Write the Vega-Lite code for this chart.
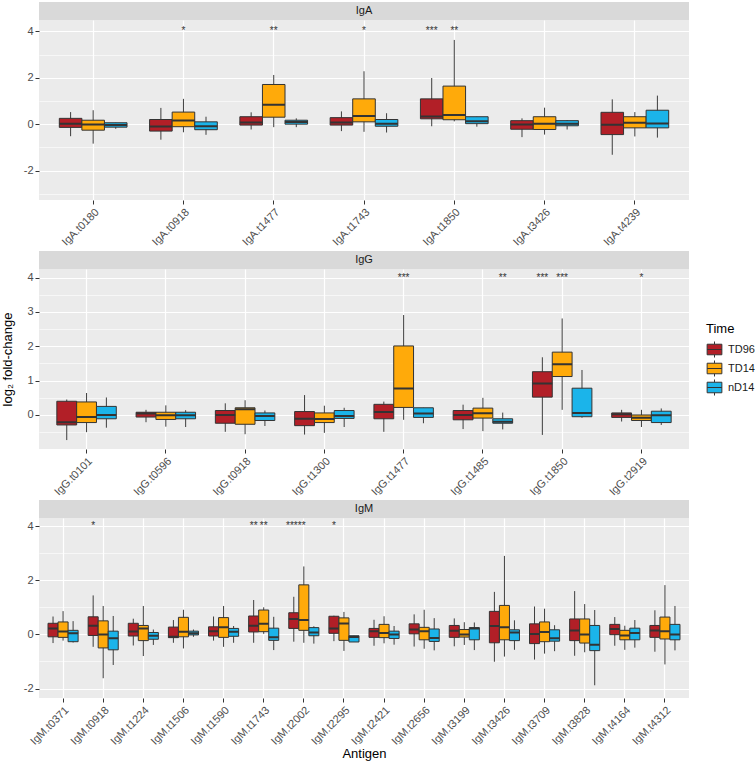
{
  "$schema": "https://vega.github.io/schema/vega-lite/v6.json",
  "padding": {"left": 1, "top": 2, "right": 0, "bottom": 0},
  "background": "white",
  "spacing": 0,
  "config": {
    "font": "Liberation Sans",
    "view": {"stroke": null},
    "axis": {"domain": false, "tickColor": "#333333", "tickSize": 4, "tickWidth": 1, "labelColor": "#4D4D4D", "labelFontSize": 11, "labelPadding": 2, "gridColor": "#FFFFFF", "titleFontWeight": "normal", "titleFontSize": 13, "titleColor": "#000000"},
    "axisY": {"labelOverlap": false, "tickCount": 30}
  },
  "resolve": {"scale": {"x": "independent", "y": "independent", "xOffset": "independent", "fill": "shared"}},
  "datasets": {
    "strips": [{"iso": "IgA"}, {"iso": "IgG"}, {"iso": "IgM"}],
    "stars": [
      {"iso": "IgA", "antigen": "IgA.t0918", "time": "TD14", "stars": "*"},
      {"iso": "IgA", "antigen": "IgA.t1477", "time": "TD14", "stars": "**"},
      {"iso": "IgA", "antigen": "IgA.t1743", "time": "TD14", "stars": "*"},
      {"iso": "IgA", "antigen": "IgA.t1850", "time": "TD96", "stars": "***"},
      {"iso": "IgA", "antigen": "IgA.t1850", "time": "TD14", "stars": "**"},
      {"iso": "IgG", "antigen": "IgG.t1477", "time": "TD14", "stars": "***"},
      {"iso": "IgG", "antigen": "IgG.t1485", "time": "nD14", "stars": "**"},
      {"iso": "IgG", "antigen": "IgG.t1850", "time": "TD96", "stars": "***"},
      {"iso": "IgG", "antigen": "IgG.t1850", "time": "TD14", "stars": "***"},
      {"iso": "IgG", "antigen": "IgG.t2919", "time": "TD14", "stars": "*"},
      {"iso": "IgM", "antigen": "IgM.t0918", "time": "TD96", "stars": "*"},
      {"iso": "IgM", "antigen": "IgM.t1743", "time": "TD96", "stars": "**"},
      {"iso": "IgM", "antigen": "IgM.t1743", "time": "TD14", "stars": "**"},
      {"iso": "IgM", "antigen": "IgM.t2002", "time": "TD96", "stars": "****"},
      {"iso": "IgM", "antigen": "IgM.t2002", "time": "TD14", "stars": "*"},
      {"iso": "IgM", "antigen": "IgM.t2295", "time": "TD96", "stars": "*"}
    ],
    "boxes": [
      {"iso":"IgA","antigen":"IgA.t0180","time":"TD96","lo":-0.52,"q1":-0.14,"med":0.02,"q3":0.25,"hi":0.52},
      {"iso":"IgA","antigen":"IgA.t0180","time":"TD14","lo":-0.84,"q1":-0.26,"med":-0.01,"q3":0.17,"hi":0.6},
      {"iso":"IgA","antigen":"IgA.t0180","time":"nD14","lo":-0.2,"q1":-0.13,"med":-0.04,"q3":0.06,"hi":0.06},
      {"iso":"IgA","antigen":"IgA.t0918","time":"TD96","lo":-0.67,"q1":-0.3,"med":-0.1,"q3":0.2,"hi":0.7},
      {"iso":"IgA","antigen":"IgA.t0918","time":"TD14","lo":-0.35,"q1":-0.11,"med":0.16,"q3":0.52,"hi":1.09},
      {"iso":"IgA","antigen":"IgA.t0918","time":"nD14","lo":-0.46,"q1":-0.24,"med":-0.09,"q3":0.1,"hi":0.32},
      {"iso":"IgA","antigen":"IgA.t1477","time":"TD96","lo":-0.23,"q1":-0.04,"med":0.07,"q3":0.32,"hi":0.51},
      {"iso":"IgA","antigen":"IgA.t1477","time":"TD14","lo":-0.13,"q1":0.3,"med":0.84,"q3":1.71,"hi":2.12},
      {"iso":"IgA","antigen":"IgA.t1477","time":"nD14","lo":-0.13,"q1":0.0,"med":0.09,"q3":0.17,"hi":0.25},
      {"iso":"IgA","antigen":"IgA.t1743","time":"TD96","lo":-0.3,"q1":-0.04,"med":0.07,"q3":0.28,"hi":0.55},
      {"iso":"IgA","antigen":"IgA.t1743","time":"TD14","lo":-0.33,"q1":0.1,"med":0.35,"q3":1.09,"hi":2.28},
      {"iso":"IgA","antigen":"IgA.t1743","time":"nD14","lo":-0.36,"q1":-0.09,"med":0.02,"q3":0.2,"hi":0.47},
      {"iso":"IgA","antigen":"IgA.t1850","time":"TD96","lo":-0.09,"q1":0.23,"med":0.33,"q3":1.09,"hi":1.99},
      {"iso":"IgA","antigen":"IgA.t1850","time":"TD14","lo":0.12,"q1":0.19,"med":0.39,"q3":1.64,"hi":3.63},
      {"iso":"IgA","antigen":"IgA.t1850","time":"nD14","lo":-0.11,"q1":0.02,"med":0.12,"q3":0.32,"hi":0.32},
      {"iso":"IgA","antigen":"IgA.t3426","time":"TD96","lo":-0.56,"q1":-0.22,"med":-0.01,"q3":0.15,"hi":0.25},
      {"iso":"IgA","antigen":"IgA.t3426","time":"TD14","lo":-0.45,"q1":-0.23,"med":0.02,"q3":0.32,"hi":0.71},
      {"iso":"IgA","antigen":"IgA.t3426","time":"nD14","lo":-0.23,"q1":-0.07,"med":0.02,"q3":0.15,"hi":0.17},
      {"iso":"IgA","antigen":"IgA.t4239","time":"TD96","lo":-1.32,"q1":-0.45,"med":-0.03,"q3":0.51,"hi":1.07},
      {"iso":"IgA","antigen":"IgA.t4239","time":"TD14","lo":-0.53,"q1":-0.16,"med":0.06,"q3":0.32,"hi":0.52},
      {"iso":"IgA","antigen":"IgA.t4239","time":"nD14","lo":-0.58,"q1":-0.16,"med":0.03,"q3":0.6,"hi":1.23},

      {"iso":"IgG","antigen":"IgG.t0101","time":"TD96","lo":-0.73,"q1":-0.29,"med":-0.21,"q3":0.4,"hi":0.45},
      {"iso":"IgG","antigen":"IgG.t0101","time":"TD14","lo":-0.5,"q1":-0.22,"med":-0.06,"q3":0.38,"hi":0.64},
      {"iso":"IgG","antigen":"IgG.t0101","time":"nD14","lo":-0.37,"q1":-0.11,"med":0.0,"q3":0.25,"hi":0.51},
      {"iso":"IgG","antigen":"IgG.t0596","time":"TD96","lo":-0.21,"q1":-0.06,"med":0.04,"q3":0.08,"hi":0.15},
      {"iso":"IgG","antigen":"IgG.t0596","time":"TD14","lo":-0.34,"q1":-0.13,"med":-0.01,"q3":0.08,"hi":0.28},
      {"iso":"IgG","antigen":"IgG.t0596","time":"nD14","lo":-0.35,"q1":-0.11,"med":-0.01,"q3":0.08,"hi":0.14},
      {"iso":"IgG","antigen":"IgG.t0918","time":"TD96","lo":-0.49,"q1":-0.24,"med":0.0,"q3":0.13,"hi":0.34},
      {"iso":"IgG","antigen":"IgG.t0918","time":"TD14","lo":-0.56,"q1":-0.27,"med":0.17,"q3":0.21,"hi":0.43},
      {"iso":"IgG","antigen":"IgG.t0918","time":"nD14","lo":-0.32,"q1":-0.16,"med":-0.03,"q3":0.06,"hi":0.13},
      {"iso":"IgG","antigen":"IgG.t1300","time":"TD96","lo":-0.57,"q1":-0.31,"med":-0.11,"q3":0.1,"hi":0.58},
      {"iso":"IgG","antigen":"IgG.t1300","time":"TD14","lo":-0.52,"q1":-0.22,"med":-0.12,"q3":0.06,"hi":0.27},
      {"iso":"IgG","antigen":"IgG.t1300","time":"nD14","lo":-0.35,"q1":-0.1,"med":-0.03,"q3":0.13,"hi":0.21},
      {"iso":"IgG","antigen":"IgG.t1477","time":"TD96","lo":-0.49,"q1":-0.11,"med":0.09,"q3":0.31,"hi":0.39},
      {"iso":"IgG","antigen":"IgG.t1477","time":"TD14","lo":-0.14,"q1":0.22,"med":0.77,"q3":2.01,"hi":2.91},
      {"iso":"IgG","antigen":"IgG.t1477","time":"nD14","lo":-0.24,"q1":-0.07,"med":0.04,"q3":0.21,"hi":0.21},
      {"iso":"IgG","antigen":"IgG.t1485","time":"TD96","lo":-0.41,"q1":-0.14,"med":0.0,"q3":0.13,"hi":0.3},
      {"iso":"IgG","antigen":"IgG.t1485","time":"TD14","lo":-0.47,"q1":-0.09,"med":0.05,"q3":0.2,"hi":0.5},
      {"iso":"IgG","antigen":"IgG.t1485","time":"nD14","lo":-0.42,"q1":-0.24,"med":-0.2,"q3":-0.11,"hi":0.07},
      {"iso":"IgG","antigen":"IgG.t1850","time":"TD96","lo":-0.58,"q1":0.52,"med":0.92,"q3":1.26,"hi":1.68},
      {"iso":"IgG","antigen":"IgG.t1850","time":"TD14","lo":0.15,"q1":1.12,"med":1.48,"q3":1.83,"hi":2.81},
      {"iso":"IgG","antigen":"IgG.t1850","time":"nD14","lo":-0.08,"q1":-0.05,"med":0.06,"q3":0.78,"hi":1.31},
      {"iso":"IgG","antigen":"IgG.t2919","time":"TD96","lo":-0.19,"q1":-0.07,"med":0.02,"q3":0.06,"hi":0.15},
      {"iso":"IgG","antigen":"IgG.t2919","time":"TD14","lo":-0.35,"q1":-0.16,"med":-0.08,"q3":0.0,"hi":0.15},
      {"iso":"IgG","antigen":"IgG.t2919","time":"nD14","lo":-0.29,"q1":-0.22,"med":-0.01,"q3":0.11,"hi":0.19},

      {"iso":"IgM","antigen":"IgM.t0371","time":"TD96","lo":-0.32,"q1":-0.09,"med":0.22,"q3":0.41,"hi":0.66},
      {"iso":"IgM","antigen":"IgM.t0371","time":"TD14","lo":-0.23,"q1":-0.11,"med":0.11,"q3":0.46,"hi":0.86},
      {"iso":"IgM","antigen":"IgM.t0371","time":"nD14","lo":-0.3,"q1":-0.27,"med":0.04,"q3":0.15,"hi":0.49},
      {"iso":"IgM","antigen":"IgM.t0918","time":"TD96","lo":-0.46,"q1":-0.04,"med":0.32,"q3":0.65,"hi":1.44},
      {"iso":"IgM","antigen":"IgM.t0918","time":"TD14","lo":-1.62,"q1":-0.5,"med":0.0,"q3":0.5,"hi":1.05},
      {"iso":"IgM","antigen":"IgM.t0918","time":"nD14","lo":-1.13,"q1":-0.57,"med":-0.14,"q3":0.12,"hi":0.68},
      {"iso":"IgM","antigen":"IgM.t1224","time":"TD96","lo":-0.41,"q1":-0.06,"med":0.11,"q3":0.41,"hi":0.58},
      {"iso":"IgM","antigen":"IgM.t1224","time":"TD14","lo":-0.8,"q1":-0.23,"med":0.22,"q3":0.33,"hi":1.05},
      {"iso":"IgM","antigen":"IgM.t1224","time":"nD14","lo":-0.39,"q1":-0.18,"med":-0.05,"q3":0.07,"hi":0.18},
      {"iso":"IgM","antigen":"IgM.t1506","time":"TD96","lo":-0.31,"q1":-0.12,"med":-0.09,"q3":0.27,"hi":0.53},
      {"iso":"IgM","antigen":"IgM.t1506","time":"TD14","lo":-0.52,"q1":-0.09,"med":0.1,"q3":0.63,"hi":0.91},
      {"iso":"IgM","antigen":"IgM.t1506","time":"nD14","lo":-0.09,"q1":-0.02,"med":0.04,"q3":0.12,"hi":0.18},
      {"iso":"IgM","antigen":"IgM.t1590","time":"TD96","lo":-0.23,"q1":-0.06,"med":0.12,"q3":0.28,"hi":0.66},
      {"iso":"IgM","antigen":"IgM.t1590","time":"TD14","lo":-0.46,"q1":-0.11,"med":0.26,"q3":0.62,"hi":1.05},
      {"iso":"IgM","antigen":"IgM.t1590","time":"nD14","lo":-0.31,"q1":-0.07,"med":0.1,"q3":0.22,"hi":0.31},
      {"iso":"IgM","antigen":"IgM.t1743","time":"TD96","lo":-0.31,"q1":0.09,"med":0.32,"q3":0.68,"hi":1.27},
      {"iso":"IgM","antigen":"IgM.t1743","time":"TD14","lo":0.02,"q1":0.1,"med":0.39,"q3":0.9,"hi":1.0},
      {"iso":"IgM","antigen":"IgM.t1743","time":"nD14","lo":-0.58,"q1":-0.22,"med":-0.11,"q3":0.23,"hi":0.65},
      {"iso":"IgM","antigen":"IgM.t2002","time":"TD96","lo":-0.27,"q1":0.22,"med":0.57,"q3":0.8,"hi":1.39},
      {"iso":"IgM","antigen":"IgM.t2002","time":"TD14","lo":-0.31,"q1":0.15,"med":0.53,"q3":1.83,"hi":2.51},
      {"iso":"IgM","antigen":"IgM.t2002","time":"nD14","lo":-0.34,"q1":-0.05,"med":0.07,"q3":0.25,"hi":0.3},
      {"iso":"IgM","antigen":"IgM.t2295","time":"TD96","lo":-0.25,"q1":0.04,"med":0.22,"q3":0.67,"hi":0.69},
      {"iso":"IgM","antigen":"IgM.t2295","time":"TD14","lo":-0.61,"q1":-0.22,"med":0.4,"q3":0.61,"hi":0.83},
      {"iso":"IgM","antigen":"IgM.t2295","time":"nD14","lo":-0.28,"q1":-0.28,"med":-0.1,"q3":-0.05,"hi":-0.05},
      {"iso":"IgM","antigen":"IgM.t2421","time":"TD96","lo":-0.42,"q1":-0.11,"med":0.12,"q3":0.22,"hi":0.54},
      {"iso":"IgM","antigen":"IgM.t2421","time":"TD14","lo":-0.33,"q1":-0.12,"med":0.05,"q3":0.37,"hi":0.67},
      {"iso":"IgM","antigen":"IgM.t2421","time":"nD14","lo":-0.38,"q1":-0.15,"med":0.0,"q3":0.12,"hi":0.31},
      {"iso":"IgM","antigen":"IgM.t2656","time":"TD96","lo":-0.45,"q1":0.02,"med":0.18,"q3":0.39,"hi":0.74},
      {"iso":"IgM","antigen":"IgM.t2656","time":"TD14","lo":-0.53,"q1":-0.2,"med":0.12,"q3":0.26,"hi":0.91},
      {"iso":"IgM","antigen":"IgM.t2656","time":"nD14","lo":-0.59,"q1":-0.26,"med":-0.13,"q3":0.2,"hi":0.6},
      {"iso":"IgM","antigen":"IgM.t3199","time":"TD96","lo":-0.44,"q1":-0.11,"med":0.13,"q3":0.33,"hi":0.59},
      {"iso":"IgM","antigen":"IgM.t3199","time":"TD14","lo":-0.39,"q1":-0.1,"med":0.0,"q3":0.18,"hi":0.45},
      {"iso":"IgM","antigen":"IgM.t3199","time":"nD14","lo":-0.58,"q1":-0.2,"med":0.22,"q3":0.25,"hi":0.44},
      {"iso":"IgM","antigen":"IgM.t3426","time":"TD96","lo":-1.01,"q1":-0.31,"med":0.31,"q3":0.85,"hi":1.57},
      {"iso":"IgM","antigen":"IgM.t3426","time":"TD14","lo":-0.82,"q1":-0.2,"med":0.26,"q3":1.07,"hi":2.9},
      {"iso":"IgM","antigen":"IgM.t3426","time":"nD14","lo":-0.57,"q1":-0.23,"med":0.07,"q3":0.17,"hi":0.52},
      {"iso":"IgM","antigen":"IgM.t3709","time":"TD96","lo":-0.93,"q1":-0.34,"med":0.01,"q3":0.39,"hi":1.03},
      {"iso":"IgM","antigen":"IgM.t3709","time":"TD14","lo":-0.71,"q1":-0.27,"med":0.09,"q3":0.46,"hi":0.95},
      {"iso":"IgM","antigen":"IgM.t3709","time":"nD14","lo":-0.62,"q1":-0.25,"med":-0.14,"q3":0.17,"hi":0.34},
      {"iso":"IgM","antigen":"IgM.t3828","time":"TD96","lo":-0.79,"q1":-0.23,"med":0.14,"q3":0.57,"hi":1.6},
      {"iso":"IgM","antigen":"IgM.t3828","time":"TD14","lo":-0.66,"q1":-0.32,"med":0.0,"q3":0.57,"hi":1.12},
      {"iso":"IgM","antigen":"IgM.t3828","time":"nD14","lo":-1.88,"q1":-0.6,"med":-0.38,"q3":0.33,"hi":0.9},
      {"iso":"IgM","antigen":"IgM.t4164","time":"TD96","lo":-0.42,"q1":-0.01,"med":0.2,"q3":0.37,"hi":0.64},
      {"iso":"IgM","antigen":"IgM.t4164","time":"TD14","lo":-0.57,"q1":-0.2,"med":-0.04,"q3":0.15,"hi":0.32},
      {"iso":"IgM","antigen":"IgM.t4164","time":"nD14","lo":-0.49,"q1":-0.2,"med":0.05,"q3":0.23,"hi":0.53},
      {"iso":"IgM","antigen":"IgM.t4312","time":"TD96","lo":-0.64,"q1":-0.11,"med":0.14,"q3":0.33,"hi":0.89},
      {"iso":"IgM","antigen":"IgM.t4312","time":"TD14","lo":-1.11,"q1":-0.17,"med":0.12,"q3":0.64,"hi":1.82},
      {"iso":"IgM","antigen":"IgM.t4312","time":"nD14","lo":-0.59,"q1":-0.2,"med":0.0,"q3":0.37,"hi":1.05}
    ]
  },
  "vconcat": [
    {
      "width": 650, "height": 18,
      "view": {"fill": "#D9D9D9", "stroke": null},
      "data": {"name": "strips"},
      "transform": [{"filter": "datum.iso === 'IgA'"}],
      "mark": {"type": "text", "fontSize": 11, "fontWeight": "normal", "color": "#1A1A1A"},
      "encoding": {"text": {"field": "iso", "type": "nominal"}}
    },
    {
      "width": 650, "height": 180,
      "view": {"fill": "#EBEBEB", "stroke": null},
      "encoding": {
        "x": {"field": "antigen", "type": "nominal",
              "scale": {"domain": ["IgA.t0180","IgA.t0918","IgA.t1477","IgA.t1743","IgA.t1850","IgA.t3426","IgA.t4239"], "paddingInner": 0, "paddingOuter": 0.1},
              "axis": {"labelAngle": -45, "labelAlign": "right", "labelBaseline": "top", "grid": true, "gridWidth": 1.2, "bandPosition": 0.5, "title": " ", "titleFontSize": 3, "titlePadding": 0}},
        "xOffset": {"field": "time", "type": "nominal", "scale": {"domain": ["TD96","TD14","nD14"], "paddingInner": 0, "paddingOuter": 0.5}}
      },
      "layer": [
        {
          "data": {"name": "boxes"},
          "transform": [{"filter": "datum.iso === 'IgA'"}],
          "layer": [
            {"mark": {"type": "rule", "color": "#3D3D3D", "strokeWidth": 1},
             "encoding": {"y": {"field": "lo", "type": "quantitative",
                                "scale": {"domain": [-3.27, 4.49], "nice": false, "zero": false},
                                "axis": {"title": null, "minExtent": 20, "values": [-3,-2,-1,0,1,2,3,4], "tickCount": 30, "labelOverlap": false,
                                         "labelExpr": "datum.value % 2 === 0 ? '' + datum.value : ''",
                                         "gridWidth": {"condition": {"test": "datum.value % 2 !== 0", "value": 0.6}, "value": 1.2},
                                         "tickOpacity": {"condition": {"test": "datum.value % 2 !== 0", "value": 0}, "value": 1}}},
                          "y2": {"field": "hi"}}},
            {"mark": {"type": "bar", "stroke": "#333333", "strokeWidth": 1},
             "encoding": {"y": {"field": "q1", "type": "quantitative", "title": null}, "y2": {"field": "q3"},
                          "fill": {"field": "time", "type": "nominal", "scale": {"domain": ["TD96","TD14","nD14"], "range": ["#B21F27","#FFAA0A","#1BB4EA"]},
                                   "legend": {"orient": "none", "legendX": 667, "legendY": 321, "title": "Time", "titleFontSize": 13, "titleFontWeight": "normal", "titleColor": "#000000", "labelFontSize": 11, "labelColor": "#1A1A1A", "symbolType": "M-0.92,-0.66H0.92V0.66H-0.92Z M0,-1V-0.66 M0,0.66V1 M-0.92,0H0.92", "symbolSize": 256, "symbolStrokeColor": "#333333", "symbolStrokeWidth": 1, "symbolOpacity": 1, "rowPadding": -8.5, "titlePadding": 5, "labelOffset": 5}}}},
            {"mark": {"type": "bar", "fill": null, "stroke": "#333333", "strokeWidth": 2},
             "encoding": {"y": {"field": "med", "type": "quantitative", "title": null}, "y2": {"field": "med"}}}
          ]
        },
        {
          "data": {"name": "stars"},
          "transform": [{"filter": "datum.iso === 'IgA'"}],
          "mark": {"type": "text", "fontSize": 10, "color": "#333333", "baseline": "middle"},
          "encoding": {"y": {"datum": 4, "type": "quantitative", "title": null}, "text": {"field": "stars", "type": "nominal"}}
        }
      ]
    },
    {
      "width": 650, "height": 18,
      "view": {"fill": "#D9D9D9", "stroke": null},
      "data": {"name": "strips"},
      "transform": [{"filter": "datum.iso === 'IgG'"}],
      "mark": {"type": "text", "fontSize": 11, "fontWeight": "normal", "color": "#1A1A1A"},
      "encoding": {"text": {"field": "iso", "type": "nominal"}}
    },
    {
      "width": 650, "height": 180,
      "view": {"fill": "#EBEBEB", "stroke": null},
      "encoding": {
        "x": {"field": "antigen", "type": "nominal",
              "scale": {"domain": ["IgG.t0101","IgG.t0596","IgG.t0918","IgG.t1300","IgG.t1477","IgG.t1485","IgG.t1850","IgG.t2919"], "paddingInner": 0, "paddingOuter": 0.1},
              "axis": {"labelAngle": -45, "labelAlign": "right", "labelBaseline": "top", "grid": true, "gridWidth": 1.2, "bandPosition": 0.5, "title": " ", "titleFontSize": 3, "titlePadding": 0}},
        "xOffset": {"field": "time", "type": "nominal", "scale": {"domain": ["TD96","TD14","nD14"], "paddingInner": 0, "paddingOuter": 0.5}}
      },
      "layer": [
        {
          "data": {"name": "boxes"},
          "transform": [{"filter": "datum.iso === 'IgG'"}],
          "layer": [
            {"mark": {"type": "rule", "color": "#3D3D3D", "strokeWidth": 1},
             "encoding": {"y": {"field": "lo", "type": "quantitative",
                                "scale": {"domain": [-0.99, 4.25], "nice": false, "zero": false},
                                "axis": {"title": "log₂ fold-change", "titlePadding": 5, "minExtent": 20, "values": [-0.5,0,0.5,1,1.5,2,2.5,3,3.5,4], "tickCount": 30, "labelOverlap": false,
                                         "labelExpr": "datum.value % 1 === 0 ? '' + datum.value : ''",
                                         "gridWidth": {"condition": {"test": "datum.value % 1 !== 0", "value": 0.6}, "value": 1.2},
                                         "tickOpacity": {"condition": {"test": "datum.value % 1 !== 0", "value": 0}, "value": 1}}},
                          "y2": {"field": "hi"}}},
            {"mark": {"type": "bar", "stroke": "#333333", "strokeWidth": 1},
             "encoding": {"y": {"field": "q1", "type": "quantitative"}, "y2": {"field": "q3"},
                          "fill": {"field": "time", "type": "nominal", "scale": {"domain": ["TD96","TD14","nD14"], "range": ["#B21F27","#FFAA0A","#1BB4EA"]}}}},
            {"mark": {"type": "bar", "fill": null, "stroke": "#333333", "strokeWidth": 2},
             "encoding": {"y": {"field": "med", "type": "quantitative"}, "y2": {"field": "med"}}}
          ]
        },
        {
          "data": {"name": "stars"},
          "transform": [{"filter": "datum.iso === 'IgG'"}],
          "mark": {"type": "text", "fontSize": 10, "color": "#333333", "baseline": "middle"},
          "encoding": {"y": {"datum": 4, "type": "quantitative"}, "text": {"field": "stars", "type": "nominal"}}
        }
      ]
    },
    {
      "width": 650, "height": 18,
      "view": {"fill": "#D9D9D9", "stroke": null},
      "data": {"name": "strips"},
      "transform": [{"filter": "datum.iso === 'IgM'"}],
      "mark": {"type": "text", "fontSize": 11, "fontWeight": "normal", "color": "#1A1A1A"},
      "encoding": {"text": {"field": "iso", "type": "nominal"}}
    },
    {
      "width": 650, "height": 180,
      "view": {"fill": "#EBEBEB", "stroke": null},
      "encoding": {
        "x": {"field": "antigen", "type": "nominal",
              "scale": {"domain": ["IgM.t0371","IgM.t0918","IgM.t1224","IgM.t1506","IgM.t1590","IgM.t1743","IgM.t2002","IgM.t2295","IgM.t2421","IgM.t2656","IgM.t3199","IgM.t3426","IgM.t3709","IgM.t3828","IgM.t4164","IgM.t4312"], "paddingInner": 0, "paddingOuter": 0.1},
              "axis": {"labelAngle": -45, "labelAlign": "right", "labelBaseline": "top", "grid": true, "gridWidth": 1.2, "bandPosition": 0.5, "title": "Antigen", "titlePadding": 1}},
        "xOffset": {"field": "time", "type": "nominal", "scale": {"domain": ["TD96","TD14","nD14"], "paddingInner": 0, "paddingOuter": 0.5}}
      },
      "layer": [
        {
          "data": {"name": "boxes"},
          "transform": [{"filter": "datum.iso === 'IgM'"}],
          "layer": [
            {"mark": {"type": "rule", "color": "#3D3D3D", "strokeWidth": 1},
             "encoding": {"y": {"field": "lo", "type": "quantitative",
                                "scale": {"domain": [-2.35, 4.3], "nice": false, "zero": false},
                                "axis": {"title": null, "minExtent": 20, "values": [-2,-1,0,1,2,3,4], "tickCount": 30, "labelOverlap": false,
                                         "labelExpr": "datum.value % 2 === 0 ? '' + datum.value : ''",
                                         "gridWidth": {"condition": {"test": "datum.value % 2 !== 0", "value": 0.6}, "value": 1.2},
                                         "tickOpacity": {"condition": {"test": "datum.value % 2 !== 0", "value": 0}, "value": 1}}},
                          "y2": {"field": "hi"}}},
            {"mark": {"type": "bar", "stroke": "#333333", "strokeWidth": 1},
             "encoding": {"y": {"field": "q1", "type": "quantitative"}, "y2": {"field": "q3"},
                          "fill": {"field": "time", "type": "nominal", "scale": {"domain": ["TD96","TD14","nD14"], "range": ["#B21F27","#FFAA0A","#1BB4EA"]}}}},
            {"mark": {"type": "bar", "fill": null, "stroke": "#333333", "strokeWidth": 2},
             "encoding": {"y": {"field": "med", "type": "quantitative"}, "y2": {"field": "med"}}}
          ]
        },
        {
          "data": {"name": "stars"},
          "transform": [{"filter": "datum.iso === 'IgM'"}],
          "mark": {"type": "text", "fontSize": 10, "color": "#333333", "baseline": "middle"},
          "encoding": {"y": {"datum": 4, "type": "quantitative"}, "text": {"field": "stars", "type": "nominal"}}
        }
      ]
    }
  ]
}
